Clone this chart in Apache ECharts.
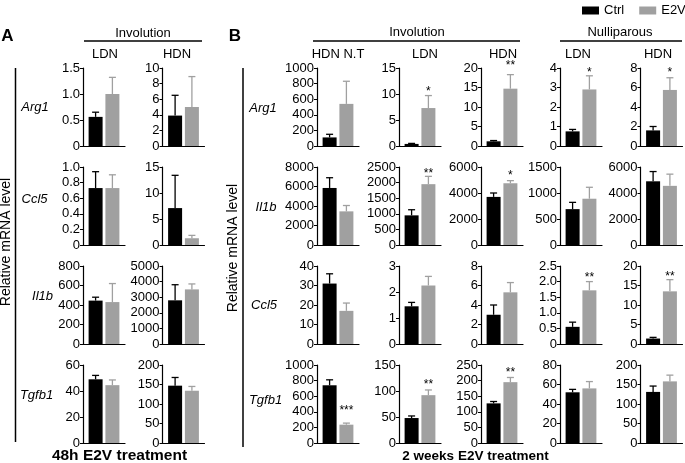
<!DOCTYPE html>
<html>
<head>
<meta charset="utf-8">
<script src="https://cdn.jsdelivr.net/npm/echarts@6/dist/echarts.min.js"></script>
<style>
  html, body { margin: 0; padding: 0; background: #fff; }
  #chart { width: 685px; height: 463px; }
</style>
</head>
<body>
<div id="chart"></div>
<script>
const FONT = '"Liberation Sans", Arial, Helvetica, sans-serif';
const BLACK = '#000';
const GREY = '#a0a0a0';

// A: 48h E2V treatment, involution
const colsA = ['LDN', 'HDN'];
const genesA = ['Arg1', 'Ccl5', 'Il1b', 'Tgfb1'];
const maxA = [[1.5, 10], [1, 15], [800, 5000], [60, 200]];
const stepA = [[0.5, 2], [0.2, 5], [200, 1000], [20, 50]];
const ctrlA = [[0.56, 3.9], [0.73, 7.1], [445, 2800], [49, 147]];
const ctrlTopA = [[0.65, 6.5], [0.94, 13.4], [480, 3800], [52, 168]];
const e2vA = [[1.0, 5.0], [0.73, 1.3], [430, 3500], [44.5, 134]];
const e2vTopA = [[1.32, 8.9], [0.9, 1.85], [620, 3850], [48.5, 145]];

// B: 2 weeks E2V treatment
const colsB = ['HDN N.T', 'LDN', 'HDN', 'LDN', 'HDN'];
const genesB = ['Arg1', 'Il1b', 'Ccl5', 'Tgfb1'];
const maxB = [[1000, 15, 20, 4, 8], [8000, 2500, 6000, 1500, 6000], [40, 3, 8, 2.5, 20], [1000, 150, 250, 80, 200]];
const stepB = [[200, 5, 5, 1, 2], [2000, 500, 2000, 500, 2000], [10, 1, 2, 0.5, 5], [200, 50, 50, 20, 50]];
const ctrlB = [[110, 0.4, 1.2, 0.75, 1.6], [5850, 950, 3700, 690, 4900], [31, 1.45, 3.0, 0.55, 1.4], [740, 48, 127, 52, 131]];
const ctrlTopB = [[150, 0.5, 1.4, 0.85, 2.0], [6900, 1130, 4000, 820, 5650], [36, 1.6, 4.0, 0.7, 1.7], [810, 52, 133, 55, 146]];
const e2vB = [[540, 7.3, 14.7, 2.9, 5.75], [3450, 1950, 4750, 890, 4550], [17, 2.25, 5.3, 1.72, 13.5], [235, 92, 195, 56, 158]];
const e2vTopB = [[830, 9.7, 18.3, 3.6, 7.0], [4050, 2200, 4950, 1110, 5450], [21, 2.6, 6.3, 2.0, 16.5], [255, 102, 210, 63, 174]];
const starB = [['', '*', '**', '*', '*'], ['', '**', '*', '', ''], ['', '', '', '**', '**'], ['***', '**', '**', '', '']];
// height (in axis units) where the significance stars sit
const starAtB = [[0, 11, 21.4, 3.91, 7.82], [0, 2390, 5536, 0, 0], [0, 0, 0, 2.22, 18], [455, 117, 234, 0, 0]];

const rowTop = [68, 167, 266, 365];
const rowH = 78;
const plotW = 42;
const colXA = [83, 162.5];
const colXB = [317, 399, 481, 560, 640.5];

const grids = [], xAxes = [], yAxes = [], series = [];

function addPanel(x, top, max, step, ctrl, ctrlTop, e2v, e2vTop, star, starAt) {
  const i = grids.length;
  grids.push({ left: x, top: top, width: plotW, height: rowH });
  xAxes.push({
    type: 'category', gridIndex: i, data: [''],
    axisLine: { lineStyle: { color: BLACK, width: 1.2 } },
    axisTick: { show: false }, axisLabel: { show: false }
  });
  yAxes.push({
    type: 'value', gridIndex: i, min: 0, max: max, interval: step,
    axisLine: { show: true, lineStyle: { color: BLACK, width: 1.2 } },
    axisTick: { show: true, length: 3, lineStyle: { color: BLACK, width: 1 } },
    splitLine: { show: false },
    axisLabel: {
      margin: 3, color: BLACK, fontFamily: FONT, fontSize: 13,
      formatter: v => v === 0 ? '0' : (step < 1 ? v.toFixed(1) : String(v))
    }
  });
  series.push({ type: 'bar', name: 'Ctrl', xAxisIndex: i, yAxisIndex: i, data: [ctrl],
    barWidth: 14, barGap: '20%', itemStyle: { color: BLACK }, silent: true, animation: false });
  series.push({ type: 'bar', name: 'E2V', xAxisIndex: i, yAxisIndex: i, data: [e2v],
    barWidth: 14, barGap: '20%', itemStyle: { color: GREY }, silent: true, animation: false });
  series.push({
    type: 'custom', xAxisIndex: i, yAxisIndex: i, clip: false, z: 3, silent: true, animation: false,
    data: [[0, ctrl, ctrlTop, -1], [0, e2v, e2vTop, 1]],
    renderItem: function (params, api) {
      const side = api.value(3);
      const base = api.coord([0, api.value(1)]);
      const tip = api.coord([0, api.value(2)]);
      const cx = base[0] + side * 8.4;
      const color = side < 0 ? BLACK : GREY;
      const kids = [
        { type: 'line', shape: { x1: cx, y1: base[1], x2: cx, y2: tip[1] }, style: { stroke: color, lineWidth: 1.3 } },
        { type: 'line', shape: { x1: cx - 3.5, y1: tip[1], x2: cx + 3.5, y2: tip[1] }, style: { stroke: color, lineWidth: 1.3 } }
      ];
      if (side > 0 && star) {
        const sp = api.coord([0, starAt]);
        kids.push({ type: 'text', x: cx, y: sp[1] + 3,
          style: { text: star, fill: BLACK, font: '12px ' + FONT, align: 'center', verticalAlign: 'middle' } });
      }
      return { type: 'group', children: kids };
    }
  });
}

for (let r = 0; r < 4; r++) {
  for (let c = 0; c < colsA.length; c++) {
    addPanel(colXA[c], rowTop[r], maxA[r][c], stepA[r][c], ctrlA[r][c], ctrlTopA[r][c], e2vA[r][c], e2vTopA[r][c], '', 0);
  }
  for (let c = 0; c < colsB.length; c++) {
    addPanel(colXB[c], rowTop[r], maxB[r][c], stepB[r][c], ctrlB[r][c], ctrlTopB[r][c], e2vB[r][c], e2vTopB[r][c], starB[r][c], starAtB[r][c]);
  }
}

function txt(x, y, s, size, extra) {
  return Object.assign({ type: 'text', x: x, y: y, silent: true,
    style: Object.assign({ text: s, fill: BLACK, font: size + 'px ' + FONT, align: 'center', verticalAlign: 'middle' }, extra || {}) });
}
function hline(x1, x2, y) {
  return { type: 'line', silent: true, shape: { x1: x1, y1: y, x2: x2, y2: y }, style: { stroke: BLACK, lineWidth: 1.4 } };
}
function vline(x, y1, y2) {
  return { type: 'line', silent: true, shape: { x1: x, y1: y1, x2: x, y2: y2 }, style: { stroke: BLACK, lineWidth: 1.5 } };
}

const colLabelXA = [105, 177];
const colLabelXB = [338, 425, 503, 578, 658];
const geneYA = [107, 199, 296, 395];
const geneXA = [35, 34.5, 42.5, 36.5];
const geneYB = [108, 207, 305, 400];
const geneXB = [263, 266, 264, 265.5];

const graphics = [
  txt(7.5, 36, 'A', 17, { font: 'bold 17px ' + FONT }),
  txt(235, 36.5, 'B', 17, { font: 'bold 17px ' + FONT }),
  txt(143, 33, 'Involution', 13),
  hline(84, 202, 41),
  txt(417, 32, 'Involution', 13),
  hline(313, 520, 41),
  txt(620, 32, 'Nulliparous', 13),
  hline(560, 682, 41),
  vline(15.5, 68, 442),
  vline(243, 68, 447),
  { type: 'text', x: 6, y: 242, rotation: Math.PI / 2, silent: true,
    style: { text: 'Relative mRNA level', fill: BLACK, font: '14px ' + FONT, align: 'center', verticalAlign: 'middle' } },
  { type: 'text', x: 233.5, y: 248, rotation: Math.PI / 2, silent: true,
    style: { text: 'Relative mRNA level', fill: BLACK, font: '14px ' + FONT, align: 'center', verticalAlign: 'middle' } },
  txt(119.5, 456, '48h E2V treatment', 15.5, { font: 'bold 15.5px ' + FONT }),
  txt(475.5, 456, '2 weeks E2V treatment', 13.5, { font: 'bold 13.5px ' + FONT })
];
colsA.forEach((s, i) => graphics.push(txt(colLabelXA[i], 54, s, 13)));
colsB.forEach((s, i) => graphics.push(txt(colLabelXB[i], 54, s, 13)));
genesA.forEach((g, i) => graphics.push(txt(geneXA[i], geneYA[i], g, 13, { font: 'italic 13px ' + FONT })));
genesB.forEach((g, i) => graphics.push(txt(geneXB[i], geneYB[i], g, 13, { font: 'italic 13px ' + FONT })));

const chart = echarts.init(document.getElementById('chart'), null, { renderer: 'canvas' });
chart.setOption({
  animation: false,
  backgroundColor: '#fff',
  legend: {
    data: ['Ctrl', 'E2V'], left: 582, top: 4, padding: 0, orient: 'horizontal', width: 200,
    itemWidth: 17, itemHeight: 8, itemGap: 15, icon: 'rect', selectedMode: false,
    textStyle: { fontFamily: FONT, fontSize: 13, color: BLACK, padding: 0 }
  },
  grid: grids,
  xAxis: xAxes,
  yAxis: yAxes,
  series: series,
  graphic: graphics
});
</script>
</body>
</html>
